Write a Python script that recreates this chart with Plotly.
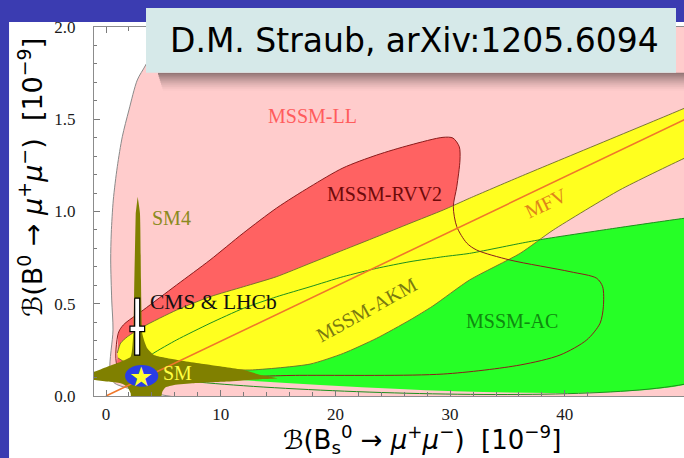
import plotly.graph_objects as go

# ---- region boundaries (x: B(Bs->mumu) [1e-9], y: B(Bd->mumu) [1e-9]) ----
# MSSM-LL
ll_x = [6.0, 3.46, 2.73, 2.00, 1.42, 0.985, 0.636, 0.46, 0.41, 0.50, 0.61, 0.35, 0.78, 53.0, 53.0]
ll_y = [2.10, 1.794, 1.713, 1.550, 1.405, 1.243, 1.062, 0.883, 0.737, 0.52, 0.358, 0.141, 0.068, 0.068, 2.10]

# MSSM-RVV2
rvv2_x = [1.07, 1.51, 3.25, 6.16, 9.07, 11.97, 14.88, 17.79, 20.66, 23.6, 26.5, 29.38, 30.25,
          30.8, 30.86, 30.58, 30.28, 30.58, 31.45, 32.32, 35.22, 40.45, 42.78, 43.3, 43.36,
          43.07, 41.91, 39.58, 36.1, 29.4, 16.9, 2.1, 0.96]
rvv2_y = [0.340, 0.385, 0.466, 0.602, 0.737, 0.883, 1.019, 1.134, 1.236, 1.306, 1.360, 1.402, 1.398,
          1.351, 1.279, 1.134, 1.026, 0.918, 0.829, 0.791, 0.737, 0.674, 0.638, 0.592, 0.484,
          0.394, 0.304, 0.222, 0.168, 0.119, 0.112, 0.112, 0.168]

# MSSM-AKM: upper edge left->right, lower edge right->left
akm_x = [0.985, 1.28, 1.86, 3.25, 6.16, 9.07, 11.97, 14.88, 17.79, 20.69, 23.6, 26.5, 29.4, 31.7,
         36.1, 50.4, 53.0,
         53.0, 50.4, 44.8, 39.0, 36.1, 31.7, 28.5, 26.5, 23.6, 20.69, 17.79, 12.55, 8.2, 3.84,
         1.66, 1.05]
akm_y = [0.233, 0.287, 0.321, 0.376, 0.466, 0.538, 0.592, 0.647, 0.719, 0.791, 0.863, 0.936, 1.008,
         1.072, 1.189, 1.559, 1.63,
         1.36, 1.288, 1.117, 0.900, 0.773, 0.629, 0.488, 0.412, 0.313, 0.231, 0.173, 0.141, 0.152,
         0.168, 0.184, 0.206]

# MSSM-AC: upper edge, then closed along the bottom
ac_top_x = [3.3, 4.12, 6.16, 9.07, 11.97, 14.88, 17.79, 20.69, 23.6, 26.5, 29.4, 31.7, 36.1,
            38.1, 43.9, 50.4, 53.0]
ac_top_y = [0.19, 0.231, 0.304, 0.394, 0.475, 0.538, 0.592, 0.647, 0.692, 0.728, 0.755, 0.773,
            0.827, 0.850, 0.905, 0.963, 0.98]
ac_bottom_x = [53.0, 3.3]
ac_bottom_y = [0.123, 0.123]

# SM4 (fourth generation)
sm4_x = [2.76, 2.96, 3.05, 3.16, 3.31, 3.60, 4.18, 6.22, 9.13, 12.03, 13.49, 14.93, 13.49, 10.58,
         7.67, 5.93, 5.20, 4.91, 4.77, 2.21, 2.15, 1.86, 1.28, 0.11, -1.05, -1.5, -1.5, -1.05,
         0.11, 1.28, 2.15, 2.38, 2.47, 2.59]
sm4_y = [1.080, 0.990, 0.629, 0.340, 0.304, 0.259, 0.222, 0.195, 0.168, 0.141, 0.114, 0.096, 0.091,
         0.078, 0.069, 0.060, 0.047, 0.023, -0.01, -0.01, 0.015, 0.050, 0.069, 0.078, 0.087,
         0.085, 0.135, 0.132, 0.159, 0.186, 0.213, 0.340, 0.629, 0.990]

# MFV line
mfv_x = [0.0, 53.0]
mfv_y = [0.0, 1.574]

# SM point
sm_x, sm_y = 3.11, 0.109
sm_ex, sm_ey = 1.45, 0.059

# CMS & LHCb combination
cms_x, cms_y = 2.72, 0.364
cms_x_lo, cms_x_hi = 2.09, 3.37
cms_y_lo, cms_y_hi = 0.222, 0.530
cms_bar_dx, cms_bar_dy = 0.22, 0.015

# axis ticks
x_major = [0, 10, 20, 30, 40]
x_minor = [2, 4, 6, 8, 12, 14, 16, 18, 22, 24, 26, 28, 32, 34, 36, 38, 42]
y_major = [0.0, 0.5, 1.0, 1.5, 2.0]
y_minor = [0.1, 0.2, 0.3, 0.4, 0.6, 0.7, 0.8, 0.9, 1.1, 1.2, 1.3, 1.4, 1.6, 1.7, 1.8, 1.9]

SERIF = "Liberation Serif"

fig = go.Figure()


def region(x, y, fill, line_color=None, line_width=1.0, smoothing=0.8):
    fig.add_trace(go.Scatter(
        x=x, y=y, mode="lines", fill="toself", fillcolor=fill,
        line=dict(color=line_color or fill, width=line_width if line_color else 0,
                  shape="spline", smoothing=smoothing),
        hoverinfo="skip", showlegend=False))


def outline(x, y, color, width=1.0, smoothing=0.8, closed=True):
    xs, ys = list(x), list(y)
    if closed:
        xs.append(x[0]); ys.append(y[0])
    fig.add_trace(go.Scatter(
        x=xs, y=ys, mode="lines",
        line=dict(color=color, width=width, shape="spline", smoothing=smoothing),
        hoverinfo="skip", showlegend=False))


region(ll_x, ll_y, "#ffcccc", "#8a8a8a", 1.0)
region(rvv2_x, rvv2_y, "#ff6262")
region(ac_top_x + ac_bottom_x, ac_top_y + ac_bottom_y, "#26ff26", smoothing=0.6)
region(akm_x, akm_y, "#ffff1f", "#6b6b2b", 0.9, smoothing=0.6)
outline(ac_top_x + ac_bottom_x, ac_top_y + ac_bottom_y, "#1d8f1d", 1.0, smoothing=0.6)
outline(rvv2_x, rvv2_y, "#8b1c1c", 1.0)
region(sm4_x, sm4_y, "#808000", smoothing=0.5)

fig.add_trace(go.Scatter(x=mfv_x, y=mfv_y, mode="lines",
                         line=dict(color="#f0772a", width=1.6),
                         hoverinfo="skip", showlegend=False))

# CMS & LHCb cross (white with black outline)
cx = [cms_x - cms_bar_dx, cms_x + cms_bar_dx, cms_x + cms_bar_dx, cms_x_hi, cms_x_hi,
      cms_x + cms_bar_dx, cms_x + cms_bar_dx, cms_x - cms_bar_dx, cms_x - cms_bar_dx,
      cms_x_lo, cms_x_lo, cms_x - cms_bar_dx, cms_x - cms_bar_dx]
cy = [cms_y_hi, cms_y_hi, cms_y + cms_bar_dy, cms_y + cms_bar_dy, cms_y - cms_bar_dy,
      cms_y - cms_bar_dy, cms_y_lo, cms_y_lo, cms_y - cms_bar_dy, cms_y - cms_bar_dy,
      cms_y + cms_bar_dy, cms_y + cms_bar_dy, cms_y_hi]
fig.add_trace(go.Scatter(x=cx, y=cy, mode="lines", fill="toself", fillcolor="white",
                         line=dict(color="black", width=1.2),
                         hoverinfo="skip", showlegend=False))

# ---- shapes: page background, SM ellipse, title box ----
shapes = [
    dict(type="rect", xref="paper", yref="paper", x0=-0.144, x1=1.2, y0=-0.3, y1=1.0136,
         fillcolor="white", line=dict(width=0), layer="below"),
    dict(type="circle", xref="x", yref="y", x0=sm_x - sm_ex, x1=sm_x + sm_ex,
         y0=sm_y - sm_ey, y1=sm_y + sm_ey, fillcolor="#2a3de6", line=dict(width=0),
         layer="above"),
]
# soft shadow under the title box
for i in range(9):
    top = 72.7 + i * 2.0
    shapes.append(dict(type="rect", xref="paper", yref="paper",
                       x0=(158 + i * 0.6 - 94) / 590, x1=1.2,
                       y0=(396 - top - 2.0) / 369, y1=(396 - top) / 369,
                       fillcolor="black", opacity=0.42 * (1 - i / 9.0) ** 1.4,
                       line=dict(width=0), layer="above"))
shapes.append(dict(type="rect", xref="paper", yref="paper",
                   x0=(146 - 94) / 590, x1=(676 - 94) / 590,
                   y0=(396 - 72.7) / 369, y1=(396 - 8) / 369,
                   fillcolor="#d6e9e9", line=dict(width=0), layer="above"))

ann = []


def label(x, y, text, color, size=20, angle=0, family=SERIF):
    ann.append(dict(x=x, y=y, xref="x", yref="y", text=text, showarrow=False,
                    xanchor="center", yanchor="middle",
                    textangle=angle, font=dict(family=family, size=size, color=color)))


def page_text(px, py, text, size, family="DejaVu Sans", angle=0):
    ann.append(dict(x=(px - 94) / 590, y=(396 - py) / 369, xref="paper", yref="paper",
                    xanchor="center", yanchor="middle", text=text, showarrow=False,
                    textangle=angle, font=dict(family=family, size=size, color="black")))


label(17.96, 1.518, "MSSM-LL", "#ff5c5c")
label(24.27, 1.095, "MSSM-RVV2", "#6e0a0a")
label(38.36, 1.046, "MFV", "#e0841a", angle=-25.5)
label(22.67, 0.466, "MSSM-AKM", "#7a7a10", angle=-29)
label(35.37, 0.409, "MSSM-AC", "#0f8a0f")
label(5.75, 0.967, "SM4", "#8a8a20")
label(9.33, 0.507, "CMS &amp; LHCb", "#111111", size=21.5)
label(6.19, 0.122, "SM", "#ffff40")
label(3.92, -0.103, "RSc", "#3e7cc8")
label(3.05, 0.106, "★", "#ffff30", size=27, family="DejaVu Sans")

page_text(414.5, 40.7, "D.M. Straub, arXiv:1205.6094", 33)
page_text(422, 439,
          "ℬ(B<sub>s</sub><sup>0</sup> → <i>μ</i><sup>+</sup><i>μ</i><sup>−</sup>)  [10<sup>−9</sup>]", 26)
page_text(30, 178,
          "ℬ(B<sup>0</sup> → <i>μ</i><sup>+</sup><i>μ</i><sup>−</sup>)  [10<sup>−9</sup>]", 27, angle=-90)

fig.update_layout(
    width=684, height=458, autosize=False,
    margin=dict(l=94, r=0, t=27, b=62, pad=0),
    paper_bgcolor="#3b3cb1", plot_bgcolor="rgba(0,0,0,0)",
    shapes=shapes, annotations=ann, showlegend=False,
    xaxis=dict(range=[-1.046, 50.39], showgrid=False, zeroline=False,
               showline=True, linecolor="#8c8c8c", linewidth=1.3, mirror="allticks",
               ticks="inside", tickvals=x_major, ticktext=[str(v) for v in x_major],
               ticklen=6, tickcolor="#7a7a7a", tickwidth=1,
               minor=dict(tickmode="array", tickvals=x_minor, ticks="inside", ticklen=3.5,
                          tickcolor="#7a7a7a"),
               tickfont=dict(family=SERIF, size=17, color="#1a1a1a"), ticklabelstandoff=2),
    yaxis=dict(range=[0, 2.0], showgrid=False, zeroline=False,
               showline=True, linecolor="#8c8c8c", linewidth=1.3,
               ticks="inside", tickvals=y_major, ticktext=[f"{v:.1f}" for v in y_major],
               ticklen=6, tickcolor="#7a7a7a", tickwidth=1,
               minor=dict(tickmode="array", tickvals=y_minor, ticks="inside", ticklen=3,
                          tickcolor="#7a7a7a"),
               tickfont=dict(family=SERIF, size=17, color="#1a1a1a"), ticklabelstandoff=14),
)

fig.write_html("out.html")
